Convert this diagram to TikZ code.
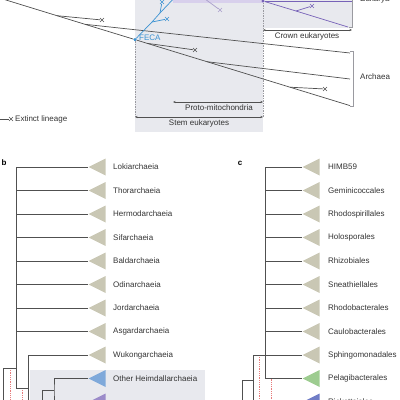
\documentclass[tikz,border=0pt]{standalone}
\usepackage{fontspec}
\setmainfont{Liberation Sans}
\usetikzlibrary{shapes.geometric,shapes.misc,arrows.meta}

\definecolor{stemgrey}{HTML}{E8E9EE}
\definecolor{lavender}{HTML}{D8D0EC}
\definecolor{treegrey}{HTML}{505050}
\definecolor{textgrey}{HTML}{333333}
\definecolor{dashgrey}{HTML}{9A9AA0}
\definecolor{ecablue}{HTML}{3B92D2}
\definecolor{lecapurple}{HTML}{7762B8}
\definecolor{lavline}{HTML}{A99ECB}
\definecolor{cladetan}{HTML}{C9C7B4}
\definecolor{heimblue}{HTML}{7FA9DA}
\definecolor{asgpurple}{HTML}{9B8BC9}
\definecolor{pelagreen}{HTML}{9DCC90}
\definecolor{rickblue}{HTML}{707DC6}
\definecolor{dotred}{HTML}{E67C7C}

\begin{document}
\begin{tikzpicture}[x=1pt, y=-1pt,
  every node/.style = {font=\fontsize{8}{9}\selectfont, inner sep=0pt, text=textgrey},
  branch/.style = {draw=treegrey, line width=0.7pt},
  extinct/.style = {cross out, draw=treegrey, minimum size=3.2pt, line width=0.6pt},
  dot/.style = {circle, minimum size=3.2pt},
  span/.style = {draw=treegrey, line width=0.4pt,
    {Stealth[length=2.5pt,width=2pt]}-{Stealth[length=2.5pt,width=2pt]}},
  bracket/.style = {draw=dashgrey, line width=0.5pt},
  period/.style = {draw=dashgrey, line width=0.5pt, dash pattern=on 1.5pt off 1pt},
  redline/.style = {draw=dotred, line width=0.5pt, dash pattern=on 1pt off 0.8pt},
  clade/.style = {isosceles triangle, isosceles triangle stretches,
    shape border rotate=180, minimum height=17pt, minimum width=17pt,
    fill=cladetan, anchor=apex},
  panel/.style = {font=\bfseries\fontsize{8}{9}\selectfont, text=black}]
  \useasboundingbox (0,0) rectangle (400,400);
  \clip (0,0) rectangle (400,400);

  % panel a
  \fill[stemgrey] (135,-5) rectangle (263,132);
  \fill[stemgrey] (263,-5) rectangle (352,28);
  \fill[lavender] (173,-5) rectangle (263,3);

  \coordinate (stemtop) at (263,-5);
  \coordinate (stemL) at (135,117);
  \coordinate (stemR) at (263,117);
  \coordinate (protoL) at (173,102);
  \coordinate (protoR) at (263,102);
  \coordinate (crownL) at (263,30);
  \coordinate (crownR) at (352,30);
  \draw[period] (stemtop) -- (stemR);

  \coordinate (aroot) at (-20,-8);
  \coordinate (a1) at (57,15.7);
  \coordinate (a2) at (85,24.3);
  \node[dot, fill=ecablue] (feca) at (135,39.6) {};
  \coordinate (a3) at (147,43.3);
  \coordinate (a4) at (207,61.7);
  \coordinate (a5) at (290,87.2);
  \coordinate (arch1) at (350,53);
  \coordinate (arch2) at (350,79);
  \coordinate (arch3) at (350,105.6);
  \node[extinct] (x1) at (102,20) {};
  \node[extinct] (x2) at (195,50) {};
  \node[extinct] (x3) at (325,89) {};
  \draw[period] (feca) -- (stemL);
  \draw[branch] (aroot) -- (a1) -- (a2) -- (feca) -- (a3) -- (a4) -- (a5) -- (arch3);
  \draw[branch] (a1) -- (x1);
  \draw[branch] (a2) -- (arch1);
  \draw[branch] (a3) -- (x2);
  \draw[branch] (a4) -- (arch2);
  \draw[branch] (a5) -- (x3);

  % stem lineages
  \coordinate (e1) at (152,22);
  \coordinate (e2) at (160,13);
  \coordinate (etop) at (178,-6);
  \node[extinct, draw=ecablue] (x4) at (167,19) {};
  \node[extinct, draw=ecablue] (x5) at (162,2) {};
  \draw[branch, draw=ecablue] (feca) -- (e1) -- (e2) -- (etop);
  \draw[branch, draw=ecablue] (e1) -- (x4);
  \draw[branch, draw=ecablue] (e2) -- (x5);
  \node[dot, fill=ecablue] at (feca) {};
  \node[anchor=west, text=ecablue] (fecalabel) at (139,38) {FECA};

  \coordinate (s1) at (205,-1);
  \node[extinct, draw=lavline] (x7) at (220,10) {};
  \draw[branch, draw=lavline] (s1) -- (x7);

  % crown lineages
  \node[dot, fill=lecapurple] (leca) at (263,1) {};
  \coordinate (p1) at (296,11);
  \coordinate (crown1) at (348,27);
  \coordinate (crown2) at (352,1);
  \node[extinct, draw=lecapurple] (x6) at (312,6) {};
  \draw[branch, draw=lecapurple] (leca) -- (p1) -- (crown1);
  \draw[branch, draw=lecapurple] (p1) -- (x6);
  \draw[branch, draw=lecapurple] (leca) -- (crown2);

  \draw[span] (crownL) -- (crownR);
  \node (crownlabel) at (307,36) {Crown eukaryotes};
  \draw[span] (protoL) -- (protoR);
  \node (protolabel) at (219,108) {Proto-mitochondria};
  \draw[span] (stemL) -- (stemR);
  \node (stemlabel) at (199,123) {Stem eukaryotes};

  \coordinate (eukT) at (352,-5);
  \coordinate (eukB) at (352,27);
  \draw[bracket] (eukT) -- (eukB) -- ++(-3,0);
  \node[anchor=west] (eukarya) at (360,-1) {Eukarya};
  \coordinate (archT) at (353,51);
  \coordinate (archB) at (353,106);
  \draw[bracket] (archT) ++(-3,0) -- (archT) -- (archB) -- ++(-3,0);
  \node[anchor=west] (archaea) at (360,77) {Archaea};

  \coordinate (legstart) at (0,119);
  \node[extinct] (legx) at (11,119) {};
  \draw[branch, line width=0.5pt] (legstart) -- (legx);
  \node[anchor=west] (legtext) at (15,119) {Extinct lineage};

  % panel b
  \node[panel] (panelb) at (4,163) {b};
  \fill[stemgrey] (30,370) rectangle (205,410);
  \foreach \name [count=\i, evaluate=\i as \y using 167+(\i-1)*23.5] in
    {Lokiarchaeia, Thorarchaeia, Hermodarchaeia, Sifarchaeia, Baldarchaeia,
     Odinarchaeia, Jordarchaeia, Asgardarchaeia, Wukongarchaeia}
  {
    \node[clade] (bt\i) at (88,\y) {};
    \node[anchor=west] (bl\i) at (113,\y) {\name};
  }
  \node[clade, fill=heimblue] (bt10) at (88,378.5) {};
  \node[anchor=west] (bl10) at (113,378.5) {Other Heimdallarchaeia};
  \node[clade, fill=asgpurple] (bt11) at (88,402) {};

  \coordinate (bspine) at (16,167);
  \coordinate (bn1) at (16,388);
  \coordinate (bn2) at (28,410);
  \coordinate (bn4) at (3,368);
  \coordinate (bn5) at (3,410);
  \coordinate (bn6) at (54,390);
  \coordinate (bn7) at (42,410);
  \coordinate (rd1) at (10,368);
  \coordinate (rd2) at (22,388);
  \draw[redline] (rd1) -- (rd1 |- bn5);
  \draw[redline] (rd2) -- (rd2 |- bn5);
  \foreach \i in {1,...,8}
    \draw[branch] (bt\i.apex) -- (bt\i.apex -| bspine);
  \draw[branch] (bspine) -- (bn1) -- (bn1 -| bn2);
  \draw[branch] (bt9.apex) -| (bn2);
  \draw[branch] (bn4 -| bn1) -- (bn4) -- (bn5);
  \draw[branch] (bt10.apex) -| (bn6) |- (bt11.apex);
  \draw[branch] (bn6) -| (bn7);

  % panel c
  \node[panel] (panelc) at (240,163) {c};
  \foreach \name [count=\i, evaluate=\i as \y using 167+(\i-1)*23.5] in
    {HIMB59, Geminicoccales, Rhodospirillales, Holosporales, Rhizobiales,
     Sneathiellales, Rhodobacterales, Caulobacterales, Sphingomonadales}
  {
    \node[clade] (ct\i) at (302,\y) {};
    \node[anchor=west] (cl\i) at (328,\y) {\name};
  }
  \node[clade, fill=pelagreen] (ct10) at (302,378.5) {};
  \node[anchor=west] (cl10) at (328,378.5) {Pelagibacterales};
  \node[clade, fill=rickblue] (ct11) at (302,402) {};
  \node[anchor=west] (cl11) at (328,402) {Rickettsiales};

  \coordinate (cspine) at (265,167);
  \coordinate (cn1) at (253,410);
  \coordinate (cn2) at (242,380);
  \coordinate (rd3) at (259,355);
  \coordinate (rd4) at (271,378.5);
  \draw[redline] (rd3) -- (rd3 |- cn1);
  \draw[redline] (rd4) -- (rd4 |- cn1);
  \foreach \i in {1,...,8}
    \draw[branch] (ct\i.apex) -- (ct\i.apex -| cspine);
  \draw[branch] (cspine) |- (ct10.apex);
  \draw[branch] (ct9.apex) -| (cn1);
  \draw[branch] (cn2 -| cn1) -- (cn2) -- (cn2 |- cn1);
\end{tikzpicture}
\end{document}
